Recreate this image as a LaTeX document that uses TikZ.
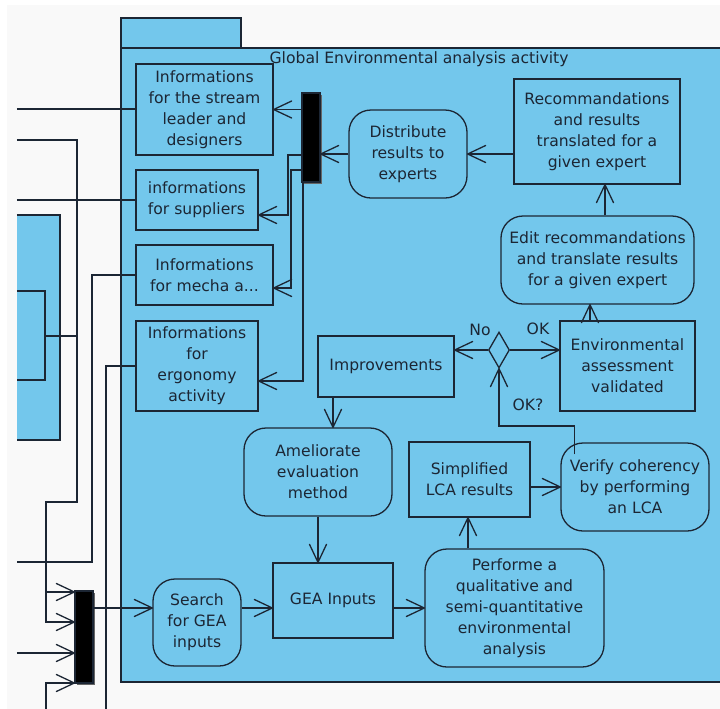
\documentclass[tikz,border=0pt]{standalone}
\usepackage{fontspec}
\setmainfont{DejaVu Sans}
\usetikzlibrary{arrows.meta,shapes.geometric,shadows}
\definecolor{geablue}{RGB}{115,199,236}
\definecolor{gealine}{RGB}{28,38,52}
\definecolor{geabg}{RGB}{249,249,249}
% plain open V tip
\pgfdeclarearrow{
  name = OpenVee,
  parameters = {\the\pgfarrowlength,\the\pgfarrowwidth,\the\pgfarrowlinewidth},
  setup code = {
    \pgfarrowssettipend{0pt}
    \pgfarrowssetlineend{0pt}
    \pgfarrowssetvisualbackend{-\pgfarrowlength}
    \pgfarrowssetbackend{-\pgfarrowlength}
    \pgfarrowsupperhullpoint{-\pgfarrowlength}{.5\pgfarrowwidth}
    \pgfarrowsupperhullpoint{0pt}{0pt}
    \pgfarrowssavethe\pgfarrowlength
    \pgfarrowssavethe\pgfarrowwidth
  },
  drawing code = {
    \pgfsetdash{}{0pt}
    \pgfsetroundjoin
    \pgfsetroundcap
    \pgfpathmoveto{\pgfqpoint{-\pgfarrowlength}{.5\pgfarrowwidth}}
    \pgfpathlineto{\pgfpointorigin}
    \pgfpathlineto{\pgfqpoint{-\pgfarrowlength}{-.5\pgfarrowwidth}}
    \pgfusepathqstroke
  },
  defaults = {length=9pt, width=8.5pt}
}
\begin{document}
\begin{tikzpicture}[x=0.5pt,y=-0.5pt,>={OpenVee[length=9pt,width=8.5pt]},
	line width=0.65pt,color=gealine,
	every node/.style={font=\fontsize{7.8}{10.5}\selectfont},
	act/.style={draw,fill=geablue,align=center,inner sep=1pt},
	rbox/.style={act,rounded corners=11pt},
	bar/.style={draw,fill=black,minimum width=9pt,inner sep=0pt,drop shadow={shadow xshift=1pt,shadow yshift=-1pt,fill=black!60,opacity=1}},
	dec/.style={draw,fill=geablue,diamond,minimum width=10.5pt,minimum height=18pt,inner sep=0pt}]
	\useasboundingbox (0,0) rectangle (720,709);
	\clip (0,0) rectangle (720,709);
	\fill[geabg] (7,5) rectangle (720,709);
	% frame and tab
	\draw[fill=geablue] (121,48) rectangle (730,682);
	\draw[fill=geablue] (121,18) rectangle (241,48);
	\node[anchor=west,inner sep=0pt] (title) at (269,59) {Global Environmental analysis activity};
	% cut partition on the left
	\fill[geablue] (17,215) rectangle (60,440);
	\draw (17,215)--(60,215)--(60,440)--(17,440);
	\draw (17,291)--(45,291)--(45,380)--(17,380) (45,336)--(77,336);
	% nodes
	\node[act,minimum width=68.5pt,minimum height=45.5pt] (infoStream) at (204.5,109.5) {Informations\\for the stream\\leader and\\designers};
	\node[act,align=left,minimum width=61pt,minimum height=30pt] (infoSupp) at (197,200) {informations\\for suppliers};
	\node[act,minimum width=68.5pt,minimum height=30pt] (infoMecha) at (204.5,275) {Informations\\for mecha a...};
	\node[act,minimum width=61pt,minimum height=45pt] (infoErgo) at (197,366) {Informations\\for\\ergonomy\\activity};
	\node[bar,minimum height=44.5pt] (topbar) at (311,137.5) {};
	\node[bar,minimum height=46pt] (botbar) at (84,637) {};
	\node[rbox,minimum width=59pt,minimum height=44pt] (distrib) at (408,154) {Distribute\\results to\\experts};
	\node[act,minimum width=83pt,minimum height=52.5pt] (recom) at (597,131.5) {Recommandations\\and results\\translated for a\\given expert};
	\node[rbox,minimum width=96.5pt,minimum height=44pt] (edit) at (597.5,260) {Edit recommandations\\and translate results\\for a given expert};
	\node[act,minimum width=67.5pt,minimum height=45pt] (envval) at (627.5,366) {Environmental\\assessment\\validated};
	\node[dec] (dec) at (499,350) {};
	\node[act,minimum width=68pt,minimum height=30.5pt] (improv) at (386,366.5) {Improvements};
	\node[rbox,minimum width=74pt,minimum height=44pt] (amel) at (318,472) {Ameliorate\\evaluation\\method};
	\node[act,minimum width=60.5pt,minimum height=37.5pt] (simpl) at (469.5,479.5) {Simplified\\LCA results};
	\node[rbox,minimum width=74pt,minimum height=44pt] (verify) at (635,487) {Verify coherency\\by performing\\an LCA};
	\node[act,minimum width=60pt,minimum height=37.5pt] (gea) at (333,600.5) {GEA Inputs};
	\node[rbox,minimum width=44pt,minimum height=43.5pt] (search) at (197,622.5) {Search\\for GEA\\inputs};
	\node[rbox,minimum width=89.5pt,minimum height=59pt] (perf) at (514.5,608) {Performe a\\qualitative and\\semi-quantitative\\environmental\\analysis};
	\node (lblNo) at (480,330) {No};
	\node (lblOK) at (538,329) {OK};
	\node (lblOKq) at (528,405) {OK?};
	% free ends on the left
	\coordinate (inA) at (17,109);
	\coordinate (inB) at (17,140);
	\coordinate (inC) at (17,200);
	\coordinate (outD) at (17,562);
	\coordinate (outE) at (106,709);
	\coordinate (inF) at (17,653);
	\coordinate (inG) at (46,709);
	\draw (inA)--(infoStream.west |- inA);
	\draw (inC)--(infoSupp.west |- inC);
	\draw[->] (inB) -| (77,502) -| (46,592) -- (botbar.west |- 0,592);
	\draw[->] (46,592)--(46,622)--(botbar.west |- 0,622);
	\draw (infoMecha.west) -| (92,562) -- (outD);
	\draw (infoErgo.west) -| (outE);
	\draw[->] (inF)--(botbar.west |- inF);
	\draw[->] (inG) |- (botbar.west |- 0,683);
	\draw[->] (botbar.east |- 0,608)--(search.west |- 0,608);
	% fork on top
	\draw[->] (topbar.west |- infoStream.east)--(infoStream.east);
	\draw[->] (topbar.west |- 0,155) -| (288,215) -- (infoSupp.east |- 0,215);
	\draw[->] (topbar.west |- 0,170) -| (291,288) -- (infoMecha.east |- 0,288);
	\draw[->] ([xshift=-4pt]topbar.south) |- (infoErgo.east |- 0,381);
	\draw[->] (distrib.west)--(topbar.east |- distrib.west);
	\draw[->] (recom.west |- distrib.east)--(distrib.east);
	\draw[->] (edit.north -| 605,0)--(recom.south -| 605,0);
	\draw[->] (envval.north -| 590,0)--(edit.south -| 590,0);
	% decision
	\draw[->] (dec.east)--(envval.west |- dec.east);
	\draw[->] (dec.west)--(improv.east |- dec.west);
	\draw[->] ([xshift=7pt,yshift=-6pt]verify.north west) |- (dec.south |- 0,426) -- (dec.south);
	\draw[->] (improv.south -| 333,0)--(amel.north -| 333,0);
	\draw[->] (amel.south)--(amel.south |- gea.north);
	\draw[->] (search.east |- 0,608)--(gea.west |- 0,608);
	\draw[->] (gea.east |- 0,608)--(perf.west |- 0,608);
	\draw[->] (perf.north -| 468,0)--(simpl.south -| 468,0);
	\draw[->] (simpl.east |- 0,487)--(verify.west |- 0,487);
\end{tikzpicture}
\end{document}
